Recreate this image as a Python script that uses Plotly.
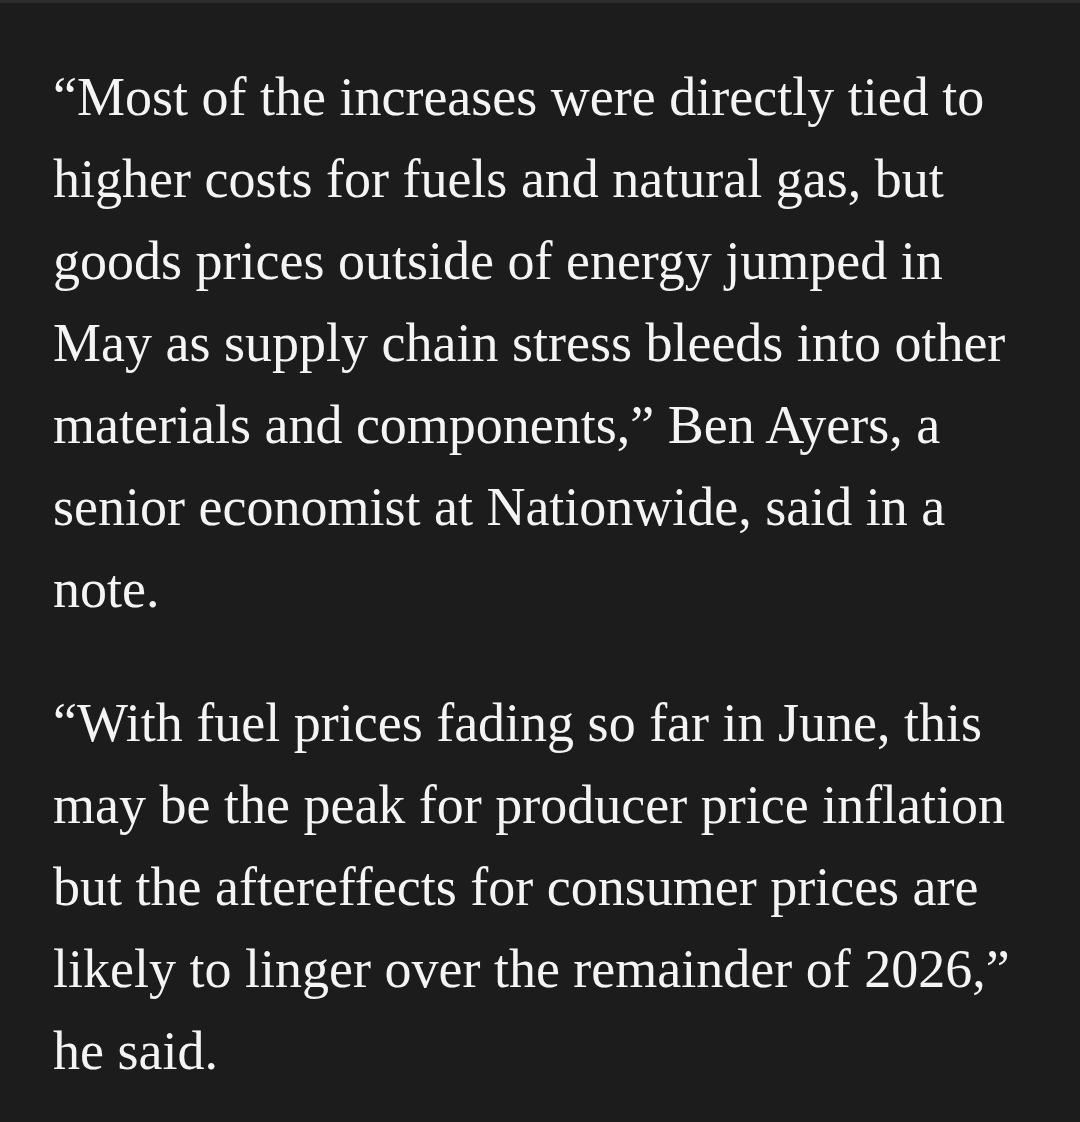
import plotly.graph_objects as go

W, H = 1080, 1122
BG = "#1c1c1c"
FG = "#f4f4f4"

paragraph_1 = [
    "\u201cMost of the increases were directly tied to",
    "higher costs for fuels and natural gas, but",
    "goods prices outside of energy jumped in",
    "May as supply chain stress bleeds into other",
    "materials and components,\u201d Ben Ayers, a",
    "senior economist at Nationwide, said in a",
    "note.",
]
paragraph_2 = [
    "\u201cWith fuel prices fading so far in June, this",
    "may be the peak for producer price inflation",
    "but the aftereffects for consumer prices are",
    "likely to linger over the remainder of 2026,\u201d",
    "he said.",
]

left = 51
line_gap = 82
first_mid = 97
para_gap = 134

annotations = []
y = first_mid
for i, para in enumerate([paragraph_1, paragraph_2]):
    if i > 0:
        y += para_gap - line_gap
    for line in para:
        annotations.append(dict(
            x=left, y=y, xref="x", yref="y",
            text=line, showarrow=False,
            xanchor="left", yanchor="middle",
            font=dict(family="Liberation Serif", size=54, color=FG),
        ))
        y += line_gap

fig = go.Figure()
fig.update_layout(
    width=W, height=H,
    paper_bgcolor=BG, plot_bgcolor=BG,
    margin=dict(l=0, r=0, t=0, b=0),
    xaxis=dict(range=[0, W], visible=False, fixedrange=True),
    yaxis=dict(range=[H, 0], visible=False, fixedrange=True),
    showlegend=False,
    annotations=annotations,
    shapes=[dict(type="rect", xref="x", yref="y", x0=0, x1=W, y0=0, y1=3,
                 fillcolor="#2c2c2c", line=dict(width=0))],
)

# page has an 8px body margin by default, drop it
fig.write_html("out.html", config={"displayModeBar": False},
               post_script="document.body.style.margin='0';"
                           "document.body.style.background='" + BG + "';")
